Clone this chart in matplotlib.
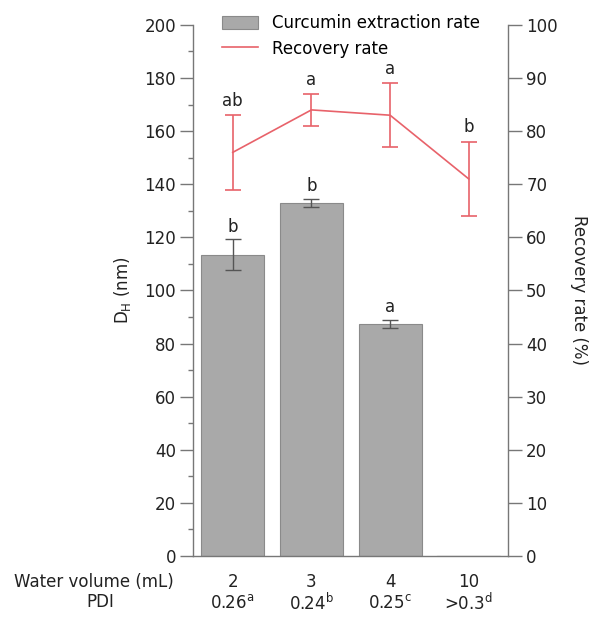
import numpy as np
import matplotlib.pyplot as plt
from matplotlib.lines import Line2D

plt.rcParams['font.family'] = ['DejaVu Sans']

volumes = ['2', '3', '4', '10']
pdi = ['0.26$^\\mathregular{a}$', '0.24$^\\mathregular{b}$',
       '0.25$^\\mathregular{c}$', '>0.3$^\\mathregular{d}$']
dh = [113.5, 133.0, 87.5, 0.0]
dh_err = [5.7, 1.5, 1.5, 0.0]
dh_letters = ['b', 'b', 'a', '']
recovery = [76.0, 84.0, 83.0, 71.0]
recovery_err = [7.0, 3.0, 6.0, 7.0]
rec_letters = ['ab', 'a', 'a', 'b']

spine_c = '#777777'
txt_c = '#222222'
red = '#e8626a'

fig = plt.figure(figsize=(5.95, 6.23), dpi=100)
ax = fig.add_axes([0.325, 0.1075, 0.529, 0.8525])
x = np.arange(len(volumes))

ax.bar(x, dh, width=0.8, color='#a9a9a9', edgecolor='#8a8a8a', linewidth=0.8,
       label='Curcumin extraction rate', zorder=2)
ax.errorbar(x[:3], dh[:3], yerr=dh_err[:3], fmt='none', ecolor='#555555',
            elinewidth=1, capsize=6, capthick=1, zorder=3)
for i in range(3):
    ax.text(x[i], dh[i] + dh_err[i] + 1.5, dh_letters[i], ha='center', va='bottom',
            fontsize=12, color=txt_c)
# bar at 10 mL is zero
ax.plot([x[3] - 0.4, x[3] + 0.4], [0, 0], color='#8a8a8a', lw=0.8, zorder=2)

ax.set_xlim(-0.5, 3.5)
ax.set_ylim(0, 200)
ax.set_yticks(np.arange(0, 201, 20))
ax.set_yticks(np.arange(0, 201, 10), minor=True)
ax.set_xticks([])
ax.set_ylabel('D$_\\mathregular{H}$ (nm)', fontsize=12, color=txt_c, labelpad=8)
ax.tick_params(axis='y', which='major', length=9.5, width=1, color=spine_c,
               labelsize=12, labelcolor=txt_c, pad=3)
ax.tick_params(axis='y', which='minor', length=3.5, width=1, color=spine_c)
for s in ['top', 'right']:
    ax.spines[s].set_visible(False)
for s in ['left', 'bottom']:
    ax.spines[s].set_color(spine_c)
    ax.spines[s].set_linewidth(1)

ax2 = ax.twinx()
ax2.errorbar(x, recovery, yerr=recovery_err, color=red, ecolor=red, lw=1.2,
             elinewidth=1.2, capsize=6, capthick=1.2, zorder=3)
for i in range(4):
    ax2.text(x[i], recovery[i] + recovery_err[i] + 1, rec_letters[i], ha='center',
             va='bottom', fontsize=12, color=txt_c)
ax2.set_ylim(0, 100)
ax2.set_yticks(np.arange(0, 101, 10))
ax2.set_ylabel('Recovery rate (%)', fontsize=12, color=txt_c, rotation=270, labelpad=22)
ax2.tick_params(axis='y', length=10, width=1, color=spine_c, labelsize=12,
                labelcolor=txt_c, pad=3)
for s in ['top', 'left', 'bottom']:
    ax2.spines[s].set_visible(False)
ax2.spines['right'].set_color(spine_c)
ax2.spines['right'].set_linewidth(1)

# bottom category rows
for i in range(4):
    ax.text(x[i], -0.049, volumes[i], transform=ax.get_xaxis_transform(),
            ha='center', va='center', fontsize=12, color=txt_c)
    ax.text(x[i], -0.088, pdi[i], transform=ax.get_xaxis_transform(),
            ha='center', va='center', fontsize=12, color=txt_c)
fig.text(0.158, 0.066, 'Water volume (mL)', ha='center', va='center', fontsize=12, color=txt_c)
fig.text(0.168, 0.034, 'PDI', ha='center', va='center', fontsize=12, color=txt_c)

h1, l1 = ax.get_legend_handles_labels()
h2 = [Line2D([], [], color=red, lw=1.2)]
ax2.legend(h1 + h2, l1 + ['Recovery rate'], loc='upper center',
           bbox_to_anchor=(0.5, 1.042), frameon=False, fontsize=12,
           handlelength=2.2, handleheight=0.9, borderpad=0.2,
           labelspacing=0.45, handletextpad=0.8)

fig.savefig('out.png', dpi=100)
